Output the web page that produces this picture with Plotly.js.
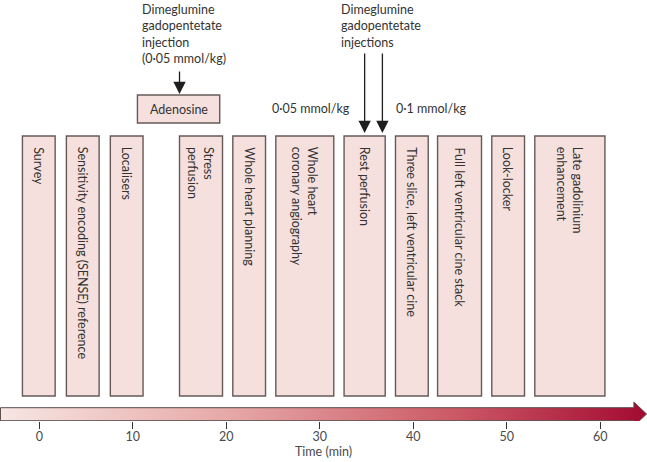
<!DOCTYPE html>
<html>
<head>
<meta charset="utf-8">
<script src="https://cdn.plot.ly/plotly-3.0.1.min.js"></script>
<style>
  html, body { margin: 0; padding: 0; background: #fff; }
  #chart { width: 647px; height: 462px; }
</style>
</head>
<body>
<div id="chart"></div>
<script>
// --- protocol steps (minutes from start) ---
const stepLabels = [
  'Survey',
  'Sensitivity encoding (SENSE) reference',
  'Localisers',
  'Stress<br>perfusion',
  'Whole heart planning',
  'Whole heart<br>coronary angiography',
  'Rest perfusion',
  'Three slice, left ventricular cine',
  'Full left ventricular cine stack',
  'Look-locker',
  'Late gadolinium<br>enhancement'
];
const stepStart = [-1.8, 2.9, 7.6, 15.0, 20.7, 25.3, 32.6, 38.1, 42.6, 48.4, 53.0];
const stepEnd   = [1.7, 6.4, 11.1, 19.6, 24.2, 31.5, 37.0, 41.6, 47.3, 51.9, 60.5];

// adenosine infusion
const adenosineStart = 10.5;
const adenosineEnd = 19.3;
const firstInjection = 15.0;

// contrast injections for rest perfusion / late enhancement
const injectionTimes = [34.8, 36.7];
const injectionDoses = ['0·05 mmol/kg', '0·1 mmol/kg'];

const tickVals = [0, 10, 20, 30, 40, 50, 60];

// --- layout constants (y in pixels from top of plot) ---
const FONT = 'Lato, "Open Sans", sans-serif';
const TXT = '#333';
const BOX_FILL = '#f5e0dd';
const BOX_LINE = '#665a58';
const xMin = -4.2, xMax = 65.0;
const boxTop = 136, boxBottom = 396;

const shapes = [];
const annotations = [];

stepLabels.forEach((lab, i) => {
  shapes.push({
    type: 'rect', xref: 'x', yref: 'y',
    x0: stepStart[i], x1: stepEnd[i], y0: boxTop, y1: boxBottom,
    fillcolor: BOX_FILL, line: { color: BOX_LINE, width: 1.4 }
  });
  annotations.push({
    x: (stepStart[i] + stepEnd[i]) / 2, y: boxTop + 9,
    xref: 'x', yref: 'y', xanchor: 'center', yanchor: 'top',
    text: lab, textangle: 90, align: 'left', showarrow: false,
    font: { family: FONT, size: 12.5, color: TXT }
  });
});

// adenosine box
shapes.push({
  type: 'rect', xref: 'x', yref: 'y',
  x0: adenosineStart, x1: adenosineEnd, y0: 95, y1: 123,
  fillcolor: BOX_FILL, line: { color: BOX_LINE, width: 1.4 }
});
annotations.push({
  x: (adenosineStart + adenosineEnd) / 2, y: 109, xref: 'x', yref: 'y',
  text: 'Adenosine', showarrow: false,
  font: { family: FONT, size: 12.5, color: TXT }
});

// first injection text + arrow
annotations.push({
  x: adenosineStart + 0.25, y: 0, xref: 'x', yref: 'y',
  xanchor: 'left', yanchor: 'top', align: 'left', showarrow: false,
  text: 'Dimeglumine<br>gadopentetate<br>injection<br>(0·05 mmol/kg)',
  font: { family: FONT, size: 12.5, color: TXT }
});
annotations.push({
  x: firstInjection, y: 94, ax: firstInjection, ay: 70,
  xref: 'x', yref: 'y', axref: 'x', ayref: 'y',
  text: '', showarrow: true, arrowhead: 2, arrowsize: 1.9, arrowwidth: 1.3,
  arrowcolor: '#1e1e1e', standoff: 0
});

// second injections
annotations.push({
  x: 32.1, y: 0, xref: 'x', yref: 'y',
  xanchor: 'left', yanchor: 'top', align: 'left', showarrow: false,
  text: 'Dimeglumine<br>gadopentetate<br>injections',
  font: { family: FONT, size: 12.5, color: TXT }
});
injectionTimes.forEach((t, i) => {
  annotations.push({
    x: t, y: 133, ax: t, ay: 52,
    xref: 'x', yref: 'y', axref: 'x', ayref: 'y',
    text: '', showarrow: true, arrowhead: 2, arrowsize: 1.9, arrowwidth: 1.3,
    arrowcolor: '#1e1e1e', standoff: 0
  });
  annotations.push({
    x: i === 0 ? t - 1.3 : t + 1.2, y: 108, xref: 'x', yref: 'y',
    xanchor: i === 0 ? 'right' : 'left', showarrow: false,
    text: injectionDoses[i],
    font: { family: FONT, size: 12.5, color: TXT }
  });
});

// time arrow with gradient fill
const barTop = 407.7, barBot = 420.7, headTop = 402, headBot = 426, tipY = 414;
const headX = 63.6, tipX = 64.95;
const timeArrow = {
  type: 'scatter', mode: 'lines',
  x: [xMin + 0.05, headX, headX, tipX, headX, headX, xMin + 0.05, xMin + 0.05],
  y: [barTop, barTop, headTop, tipY, headBot, barBot, barBot, barTop],
  fill: 'toself',
  fillgradient: {
    type: 'horizontal',
    colorscale: [[0, '#f7e6e3'], [0.35, '#e6a9a7'], [0.7, '#cc5a66'], [1, '#a30a31']]
  },
  line: { color: '#5b4a4a', width: 1 },
  hoverinfo: 'skip', showlegend: false
};

const layout = {
  width: 647, height: 462,
  margin: { l: 0, r: 0, t: 0, b: 41 },
  paper_bgcolor: '#fff', plot_bgcolor: 'rgba(0,0,0,0)',
  showlegend: false,
  xaxis: {
    range: [xMin, xMax], showgrid: false, zeroline: false, showline: false,
    tickvals: tickVals, ticks: 'outside', ticklen: 7, tickwidth: 1.2, tickcolor: '#333',
    ticklabelstandoff: -3,
    tickfont: { family: FONT, size: 12.5, color: '#4a4a4a' },
    title: { text: 'Time (min)', font: { family: FONT, size: 12.5, color: '#4a4a4a' }, standoff: 0 },
    fixedrange: true
  },
  yaxis: {
    range: [421, 0], visible: false, showgrid: false, zeroline: false, fixedrange: true
  },
  shapes: shapes,
  annotations: annotations
};

Plotly.newPlot('chart', [timeArrow], layout, { displayModeBar: false, staticPlot: true });
</script>
</body>
</html>
